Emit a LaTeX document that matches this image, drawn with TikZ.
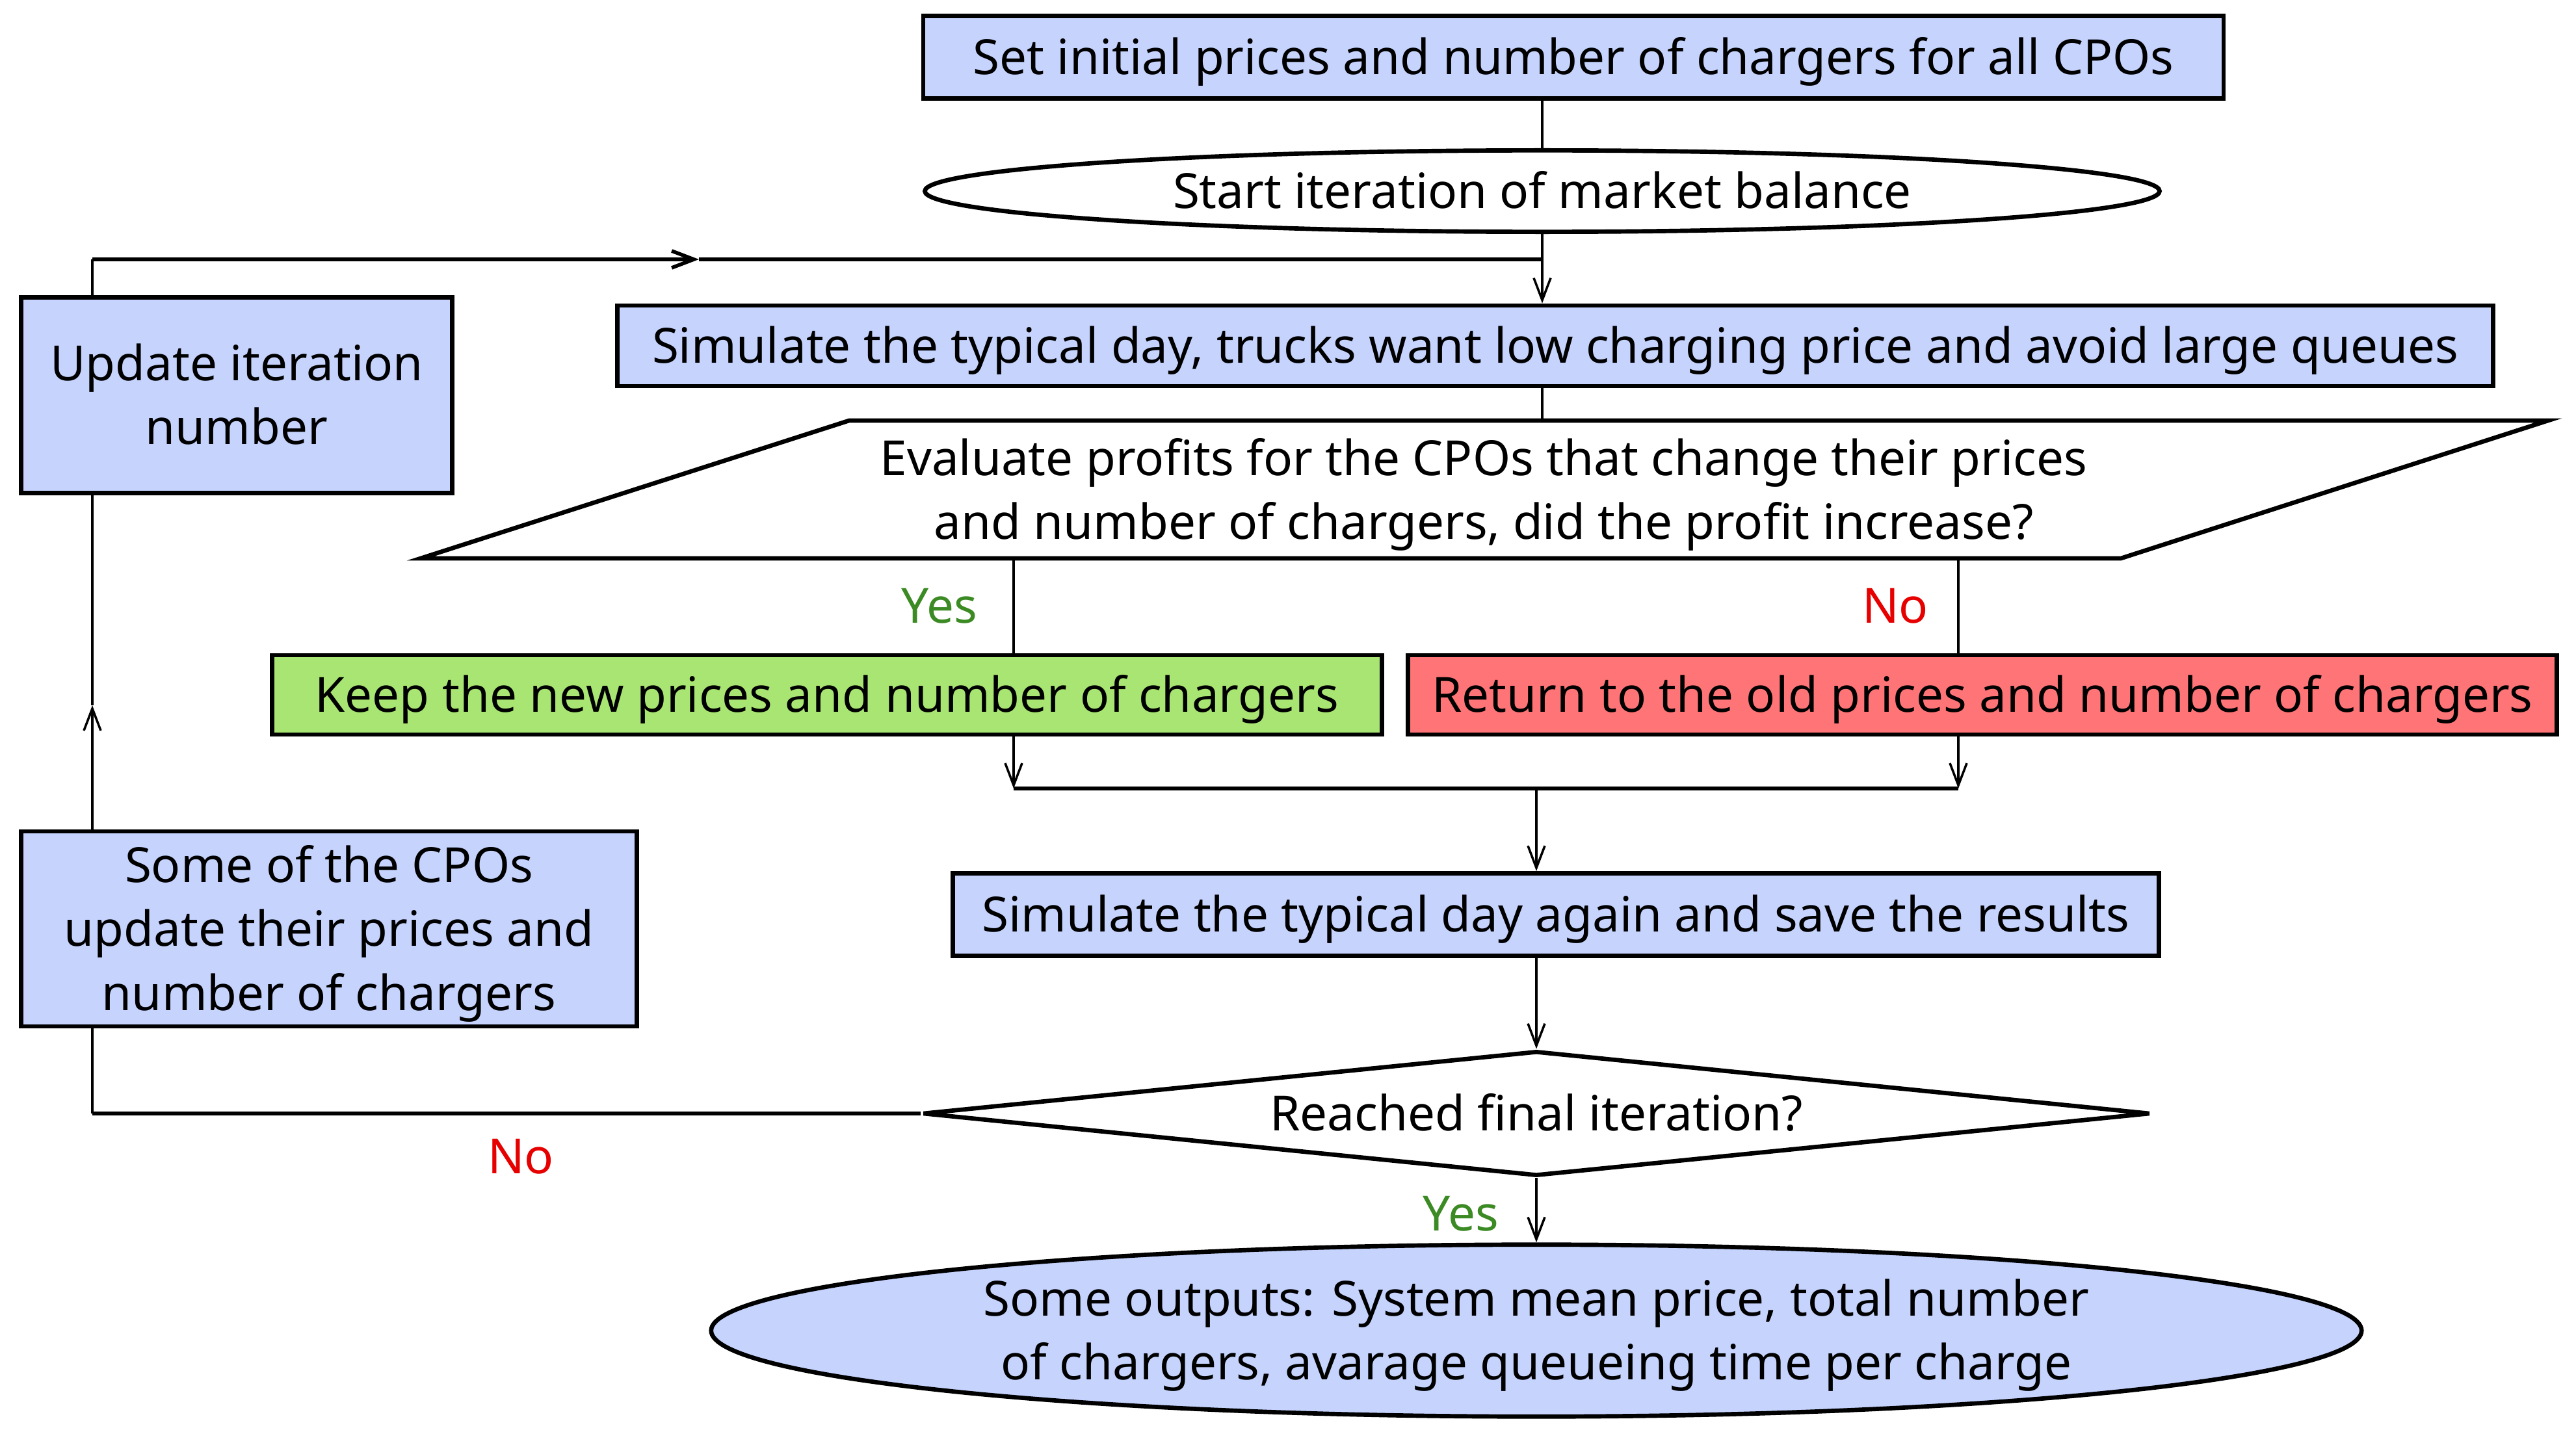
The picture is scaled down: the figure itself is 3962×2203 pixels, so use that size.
\documentclass[tikz,border=0pt]{standalone}
\usepackage{fontspec}
\setmainfont{Noto Sans}
\usetikzlibrary{shapes.geometric,arrows.meta}
\definecolor{boxblue}{HTML}{C5D3FD}
\definecolor{keepgreen}{HTML}{A9E572}
\definecolor{retred}{HTML}{FF7476}
\definecolor{yesgreen}{HTML}{3B8A24}
\definecolor{nored}{HTML}{E60000}
\begin{document}
\begin{tikzpicture}[x=0.01cm,y=-0.01cm,
  every node/.style={font=\fontsize{21.2}{28}\selectfont},
  oneline/.style={text height=20.2pt,text depth=5pt},
  twoline/.style={text height=48.2pt,text depth=5pt},
  threeline/.style={text height=76.2pt,text depth=5pt},
  shapeline/.style={draw,line width=1.9pt},
  box/.style={shapeline,fill=boxblue,inner sep=0pt,align=center},
  conn/.style={line width=1pt},
  hconn/.style={line width=1.6pt},
  arr/.style={conn,-{Straight Barb[length=0.34cm,width=0.26cm]}},
  yeslbl/.style={text=yesgreen},
  nolbl/.style={text=nored}]
\useasboundingbox (0,0) rectangle (3962,2203);

% nodes
\node[box,oneline,minimum width=19.99cm,minimum height=1.27cm] (init) at (2420,88) {Set initial prices and number of chargers for all CPOs};
\node[ellipse,shapeline,oneline,inner sep=0pt,minimum width=18.98cm,minimum height=1.24cm] (start) at (2372,294) {Start iteration of market balance};
\node[box,oneline,minimum width=28.83cm,minimum height=1.24cm] (sim) at (2392,532) {Simulate the typical day, trucks want low charging price and avoid large queues};

\coordinate (pTL) at (1306,647);
\coordinate (pTR) at (3919,647);
\coordinate (pBR) at (3262,859);
\coordinate (pBL) at (647,859);
\draw[shapeline] (pTL) -- (pTR) -- (pBR) -- (pBL) -- cycle;
\node[align=center,twoline] (eval) at (2282,754) {Evaluate profits for the CPOs that change their prices\\and number of chargers, did the profit increase?};

\node[box,oneline,fill=keepgreen,minimum width=17.06cm,minimum height=1.22cm] (keep) at (1272,1069) {Keep the new prices and number of chargers};
\node[box,oneline,fill=retred,minimum width=17.66cm,minimum height=1.22cm] (ret) at (3049,1069) {Return to the old prices and number of chargers};
\node[box,oneline,minimum width=18.54cm,minimum height=1.27cm] (sim2) at (2393,1407) {Simulate the typical day again and save the results};
\node[diamond,shapeline,oneline,inner sep=0pt,aspect=9.83,minimum width=18.87cm,minimum height=1.92cm] (final) at (2363,1713) {Reached final iteration?};
\node[ellipse,shapeline,twoline,fill=boxblue,inner sep=0pt,align=center,minimum width=25.37cm,minimum height=2.53cm] (out) at (2363,2047) {Some outputs: System mean price, total number\\of chargers, avarage queueing time per charge};
\node[box,twoline,minimum width=6.62cm,minimum height=3.01cm] (upd) at (364,608) {Update iteration\\number};
\node[box,threeline,minimum width=9.47cm,minimum height=3.00cm] (some) at (506,1429) {Some of the CPOs\\update their prices and\\number of chargers};

% labels
\node[yeslbl] (yes1) at (1445,932) {Yes};
\node[nolbl] (no1) at (2915,932) {No};
\node[yeslbl] (yes2) at (2247,1867) {Yes};
\node[nolbl] (no2) at (801,1779) {No};

% connectors
\coordinate (lx) at (142,0);
\coordinate (loopmid) at (1075,399);
\coordinate (loopj) at (2372,399);
\coordinate (ptop) at (2372,647);
\coordinate (pyes) at (1559,859);
\coordinate (pno) at (3012,859);
\coordinate (myes) at (1559,1213);
\coordinate (mno) at (3012,1213);
\coordinate (mmid) at (2363,1213);
\coordinate (upmid) at (142,1085);

\draw[conn] (start.north |- init.south) -- (start.north);
\draw[arr] (start.south) -- (start.south |- sim.north);
\draw[conn] (upd.north -| lx) -- (lx |- loopmid);
\draw[hconn,-{Straight Barb[length=0.34cm,width=0.26cm]}] (lx |- loopmid) -- (loopmid);
\draw[hconn] (loopmid) -- (loopj);
\draw[conn] (sim.south -| ptop) -- (ptop);
\draw[conn] (pyes) -- (pyes |- keep.north);
\draw[conn] (pno) -- (pno |- ret.north);
\draw[arr] (pyes |- keep.south) -- (myes);
\draw[arr] (pno |- ret.south) -- (mno);
\draw[hconn] (myes) -- (mno);
\draw[arr] (mmid) -- (mmid |- sim2.north);
\draw[arr] (mmid |- sim2.south) -- (final.north);
\draw[arr] (final.south) -- (out.north);
\draw[hconn] (final.west) -- (final.west -| lx);
\draw[conn] (final.west -| lx) -- (some.south -| lx);
\draw[arr] (some.north -| lx) -- (upmid);
\draw[conn] (upmid) -- (upd.south -| lx);
\end{tikzpicture}
\end{document}
